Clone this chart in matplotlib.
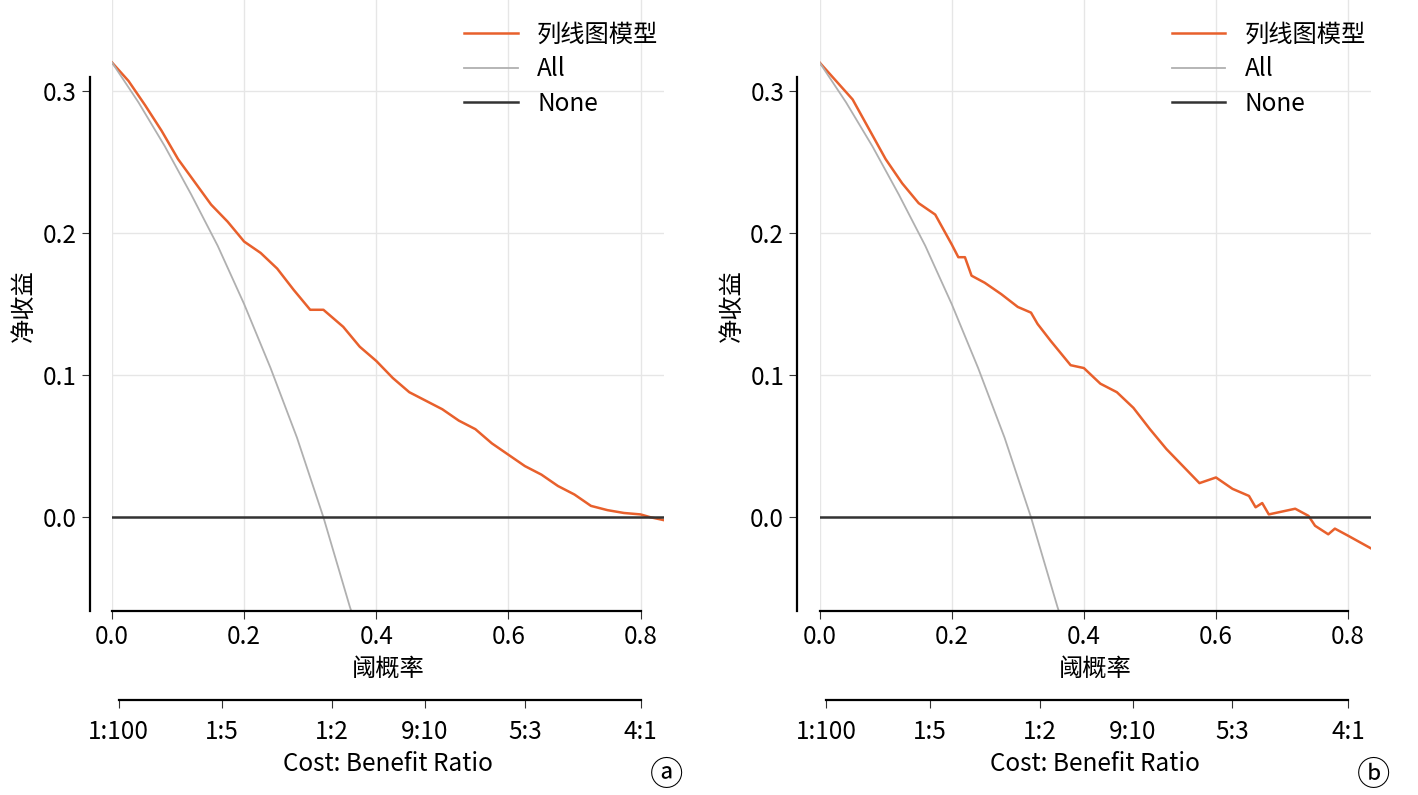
import matplotlib
matplotlib.use("Agg")
import matplotlib.pyplot as plt

plt.rcParams['font.family'] = ['Noto Sans CJK SC', 'DejaVu Sans']

# ---- data ----
xa = [0.0, 0.025, 0.05, 0.075, 0.1, 0.125, 0.15, 0.175, 0.2, 0.225, 0.25, 0.275, 0.3, 0.32, 0.335, 0.35, 0.375, 0.4, 0.425, 0.45, 0.475, 0.5, 0.525, 0.55, 0.575, 0.6, 0.625, 0.65, 0.675, 0.7, 0.725, 0.75, 0.775, 0.8, 0.815, 0.835]
ya = [0.320, 0.307, 0.290, 0.272, 0.252, 0.236, 0.220, 0.208, 0.194, 0.186, 0.175, 0.160, 0.146, 0.146, 0.140, 0.134, 0.120, 0.110, 0.098, 0.088, 0.082, 0.076, 0.068, 0.062, 0.052, 0.044, 0.036, 0.030, 0.022, 0.016, 0.008, 0.005, 0.003, 0.002, 0.000, -0.002]
xb = [0.0, 0.025, 0.05, 0.075, 0.1, 0.125, 0.15, 0.175, 0.2, 0.21, 0.22, 0.23, 0.25, 0.275, 0.3, 0.32, 0.33, 0.35, 0.38, 0.4, 0.425, 0.45, 0.475, 0.5, 0.525, 0.55, 0.575, 0.6, 0.625, 0.65, 0.66, 0.67, 0.68, 0.7, 0.72, 0.74, 0.75, 0.77, 0.78, 0.8, 0.835]
yb = [0.320, 0.307, 0.294, 0.273, 0.252, 0.235, 0.221, 0.213, 0.192, 0.183, 0.183, 0.170, 0.165, 0.157, 0.148, 0.144, 0.136, 0.124, 0.107, 0.105, 0.094, 0.088, 0.077, 0.062, 0.048, 0.036, 0.024, 0.028, 0.020, 0.015, 0.007, 0.010, 0.002, 0.004, 0.006, 0.001, -0.006, -0.012, -0.008, -0.013, -0.022]
x_all = [0.0, 0.04, 0.08, 0.12, 0.16, 0.2, 0.24, 0.28, 0.32, 0.36, 0.365]
y_all = [0.320, 0.292, 0.261, 0.227, 0.191, 0.150, 0.105, 0.056, 0.000, -0.063, -0.070]
none_x = [0.0, 0.835]
none_y = [0.0, 0.0]
ratio_pos = [0.0099, 0.1667, 0.3333, 0.4737, 0.625, 0.8]
ratio_lab = ['1:100', '1:5', '1:2', '9:10', '5:3', '4:1']
legend_labels = ['列线图模型', 'All', 'None']

fig = plt.figure(figsize=(14.18, 7.95), dpi=100)
FS = 17.5
panels = [(0.079, xa, ya, 'ⓐ'), (0.578, xb, yb, 'ⓑ')]
for left, x, y, tag in panels:
    ax = fig.add_axes([left, 0.2314, 0.389, 0.7686])
    ax.grid(True, color='#e6e6e6', lw=1)
    ax.set_axisbelow(True)
    ax.plot(x, y, color='#E8602C', lw=1.8, label=legend_labels[0])
    ax.plot(x_all, y_all, color='#b0b0b0', lw=1.3, label=legend_labels[1])
    ax.plot(none_x, none_y, color='#333333', lw=1.8, label=legend_labels[2])
    ax.set_xlim(0, 0.835)
    ax.set_ylim(-0.066, 0.364)
    ax.set_xticks([0, 0.2, 0.4, 0.6, 0.8])
    ax.set_xticklabels(['0.0', '0.2', '0.4', '0.6', '0.8'])
    ax.set_yticks([0, 0.1, 0.2, 0.3])
    ax.set_yticklabels(['0.0', '0.1', '0.2', '0.3'])
    ax.tick_params(labelsize=FS, color='#333333', length=6)
    for s in ['top', 'right']:
        ax.spines[s].set_visible(False)
    ax.spines['left'].set_position(('outward', 16))
    ax.spines['left'].set_bounds(-0.066, 0.31)
    ax.spines['bottom'].set_bounds(0, 0.8)
    ax.spines['left'].set_linewidth(1.6)
    ax.spines['bottom'].set_linewidth(1.6)
    ax.set_xlabel('阈概率', fontsize=FS, labelpad=4)
    ax.set_ylabel('净收益', fontsize=FS, labelpad=4)
    ax.legend(loc='upper right', frameon=False, fontsize=FS, bbox_to_anchor=(1.03, 1.0),
              handlelength=2.2, labelspacing=0.35)
    ax2 = ax.twiny()
    ax2.set_xlim(ax.get_xlim())
    ax2.xaxis.set_ticks_position('bottom')
    ax2.xaxis.set_label_position('bottom')
    ax2.spines['bottom'].set_position(('outward', 64))
    for s in ['top', 'right', 'left']:
        ax2.spines[s].set_visible(False)
    ax2.spines['bottom'].set_bounds(0.0099, 0.8)
    ax2.spines['bottom'].set_linewidth(1.6)
    ax2.set_xticks(ratio_pos)
    ax2.set_xticklabels(ratio_lab)
    ax2.tick_params(labelsize=FS, length=6, pad=8, color='#333333')
    ax2.set_xlabel('Cost: Benefit Ratio', fontsize=FS, labelpad=4)
    fig.text(left + 0.391, 0.024, tag, fontsize=24, ha='center', va='center')

fig.savefig('out.png', dpi=100)
